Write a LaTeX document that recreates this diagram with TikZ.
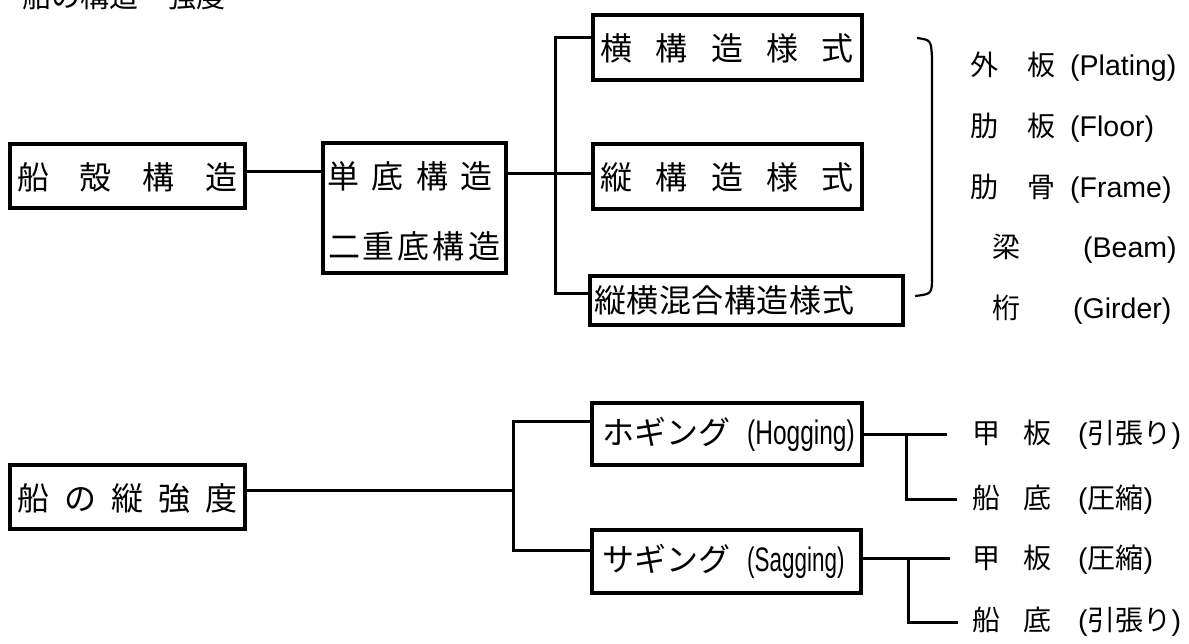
\documentclass[tikz,border=0pt]{standalone}
\usepackage{fontspec}
\setmainfont{Liberation Sans}
\newfontfamily\jp{Noto Sans CJK JP}
\newfontfamily\narrow[FakeStretch=0.72]{Liberation Sans}
\newfontfamily\sagfont[FakeStretch=0.66]{Liberation Sans}
\newcommand\jsm[1]{{\jp\fontsize{28}{32}\selectfont #1}}
\begin{document}
\begin{tikzpicture}[x=1pt,y=-1pt,
  box/.style={draw, line width=3.5pt, inner sep=0pt},
  conn/.style={line width=3pt},
  big/.style={font=\jp\fontsize{32}{38}\selectfont, inner sep=0pt},
  item/.style={anchor=west, inner sep=0pt, font=\fontsize{28.5}{33}\selectfont}]
\fill[white] (0,0) rectangle (1189,644);
\useasboundingbox (0,0) rectangle (1189,644);

% title (cut at the top)
\node[anchor=west, inner sep=0pt, font=\jp\fontsize{29}{34}\selectfont] (title) at (22,-3) {船の構造・強度};

% upper tree
\node[box, minimum width=235pt, minimum height=64pt] (hull) at (127.5,176) {};
\node[big] (hullt) at (127.5,177) {\makebox[221pt][s]{船\hfill 殻\hfill 構\hfill 造}};

\node[box, minimum width=183pt, minimum height=130pt] (bottom) at (414.5,208) {};
\node[big] (single) at (410,176) {\makebox[165pt][s]{単\hfill 底\hfill 構\hfill 造}};
\node[big] (double) at (414,246) {\makebox[172pt][s]{二\hfill 重\hfill 底\hfill 構\hfill 造}};

\node[box, minimum width=269pt, minimum height=65pt] (yoko) at (727.5,47.5) {};
\node[big] (yokot) at (727,48) {\makebox[253pt][s]{横\hfill 構\hfill 造\hfill 様\hfill 式}};

\node[box, minimum width=269pt, minimum height=65pt] (tate) at (727.5,176.5) {};
\node[big] (tatet) at (727,177) {\makebox[253pt][s]{縦\hfill 構\hfill 造\hfill 様\hfill 式}};

\node[box, minimum width=313pt, minimum height=49pt] (mixed) at (746.5,300.5) {};
\node[big] (mixedt) at (724,300) {\makebox[260pt][s]{縦\hfill 横\hfill 混\hfill 合\hfill 構\hfill 造\hfill 様\hfill 式}};

\coordinate (ja) at (0,172);
\coordinate (jt) at (555,38);
\coordinate (jm) at (555,174);
\coordinate (jb) at (555,294);
\draw[conn] (hull.east |- ja) -- (bottom.west |- ja);
\draw[conn] (bottom.east |- jm) -- (tate.west |- jm);
\draw[conn] (yoko.west |- jt) -- (jt) -- (jb) -- (mixed.west |- jb);

% brace
\coordinate (bt) at (917,38);
\coordinate (bb) at (915,296);
\draw[line width=2.2pt] (bt) .. controls (931,40) .. (932,58) -- (932,276) .. controls (932,294) .. (bb);

% member list
\node[item] (r1) at (970,67) {\makebox[57pt][l]{\jsm{外}}\makebox[43pt][l]{\jsm{板}}(Plating)};
\node[item] (r2) at (970,128) {\makebox[57pt][l]{\jsm{肋}}\makebox[43pt][l]{\jsm{板}}(Floor)};
\node[item] (r3) at (970,189) {\makebox[57pt][l]{\jsm{肋}}\makebox[43pt][l]{\jsm{骨}}(Frame)};
\node[item] (r4) at (992,249) {\makebox[91pt][l]{\jsm{梁}}(Beam)};
\node[item] (r5) at (992,310) {\makebox[81pt][l]{\jsm{桁}}(Girder)};

% lower tree
\node[box, minimum width=235pt, minimum height=64pt] (str) at (127.5,497) {};
\node[big] (strt) at (127.5,498) {\makebox[221pt][s]{船\hfill の\hfill 縦\hfill 強\hfill 度}};

\node[box, minimum width=270pt, minimum height=62pt] (hog) at (727,434) {};
\node[anchor=west, inner sep=0pt] (hogt) at (602,434) {\makebox[145pt][l]{\jp\fontsize{32}{38}\selectfont ホギング}{\narrow\fontsize{34}{38}\selectfont (Hogging)}};

\node[box, minimum width=269pt, minimum height=63pt] (sag) at (726.5,561.5) {};
\node[anchor=west, inner sep=0pt] (sagt) at (602,561) {\makebox[145pt][l]{\jp\fontsize{32}{38}\selectfont サギング}{\sagfont\fontsize{34}{38}\selectfont (Sagging)}};

\coordinate (ks) at (513,490);
\coordinate (kt) at (513,421);
\coordinate (kb) at (513,550);
\draw[conn] (str.east |- ks) -- (ks);
\draw[conn] (hog.west |- kt) -- (kt) -- (kb) -- (sag.west |- kb);

\node[item] (d1) at (972,435) {\makebox[51pt][l]{\jsm{甲}}\makebox[55pt][l]{\jsm{板}}(\jsm{引張り})};
\node[item] (d2) at (972,500) {\makebox[51pt][l]{\jsm{船}}\makebox[55pt][l]{\jsm{底}}(\jsm{圧縮})};
\node[item] (d3) at (972,560) {\makebox[51pt][l]{\jsm{甲}}\makebox[55pt][l]{\jsm{板}}(\jsm{圧縮})};
\node[item] (d4) at (972,622) {\makebox[51pt][l]{\jsm{船}}\makebox[55pt][l]{\jsm{底}}(\jsm{引張り})};

\coordinate (h1) at (947,434);
\coordinate (hj) at (906,434);
\coordinate (hb) at (906,499);
\coordinate (h2) at (957,499);
\draw[conn] (hog.east |- h1) -- (h1);
\draw[conn] (hj) -- (hb) -- (h2);

\coordinate (s1) at (950,558);
\coordinate (sj) at (908,558);
\coordinate (sb) at (908,622);
\coordinate (s2) at (958,622);
\draw[conn] (sag.east |- s1) -- (s1);
\draw[conn] (sj) -- (sb) -- (s2);
\end{tikzpicture}
\end{document}
